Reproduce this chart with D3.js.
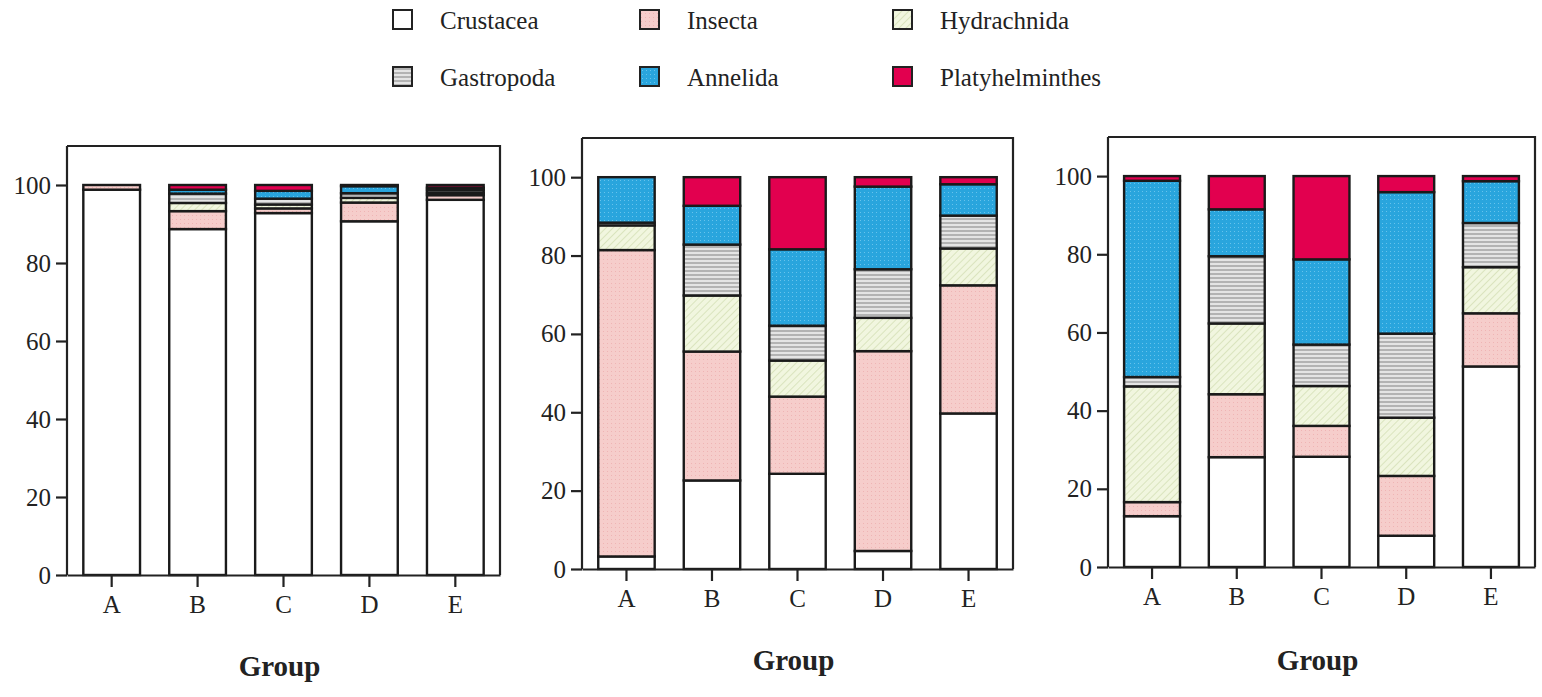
<!DOCTYPE html>
<html>
<head>
<meta charset="utf-8">
<script src="https://cdn.jsdelivr.net/npm/d3@7"></script>
<style>
  body { margin: 0; background: #fff; }
  svg text { font-family: "Liberation Serif", "DejaVu Serif", serif; fill: #222; }
  .axis path, .axis line { stroke: #222; stroke-width: 2.2; }
  .axis text { font-size: 25px; }
</style>
</head>
<body>
<svg id="chart" width="1542" height="697"></svg>
<script>
var groups = ["A", "B", "C", "D", "E"];
var taxa = ["Crustacea", "Insecta", "Hydrachnida", "Gastropoda", "Annelida", "Platyhelminthes"];
var yTicks = [0, 20, 40, 60, 80, 100];

// one row per group, columns in taxa order (percent)
var panelLeft = [
  [98.8, 1.2, 0, 0, 0, 0],
  [88.7, 4.6, 2.1, 2.4, 1.0, 1.2],
  [92.8, 1.2, 1.0, 1.5, 2.0, 1.5],
  [90.7, 4.8, 1.2, 1.2, 1.8, 0.3],
  [96.2, 1.2, 0.6, 0.7, 0.6, 0.7]
];
var panelMiddle = [
  [3.2, 78.2, 6.3, 0.7, 11.6, 0],
  [22.6, 32.9, 14.3, 13.0, 9.9, 7.3],
  [24.3, 19.7, 9.2, 8.9, 19.5, 18.4],
  [4.6, 51.0, 8.5, 12.4, 21.1, 2.4],
  [39.7, 32.7, 9.4, 8.4, 8.0, 1.8]
];
var panelRight = [
  [13.0, 3.6, 29.6, 2.4, 50.2, 1.2],
  [28.1, 16.1, 18.1, 17.2, 12.0, 8.5],
  [28.2, 7.9, 10.2, 10.6, 21.8, 21.3],
  [8.0, 15.3, 14.9, 21.5, 36.2, 4.1],
  [51.3, 13.6, 11.8, 11.3, 10.7, 1.3]
];

var svg = d3.select("#chart");
var defs = svg.append("defs");

// fills: plain, stippled, hatched, striped
var pInsecta = defs.append("pattern").attr("id", "p-insecta")
    .attr("patternUnits", "userSpaceOnUse").attr("width", 4).attr("height", 4);
pInsecta.append("rect").attr("width", 4).attr("height", 4).attr("fill", "#f6cdcb");
pInsecta.append("rect").attr("x", 1).attr("y", 1).attr("width", 1).attr("height", 1).attr("fill", "#efb4b4");

var pHydra = defs.append("pattern").attr("id", "p-hydra")
    .attr("patternUnits", "userSpaceOnUse").attr("width", 5).attr("height", 5)
    .attr("patternTransform", "rotate(45)");
pHydra.append("rect").attr("width", 5).attr("height", 5).attr("fill", "#f1f6df");
pHydra.append("line").attr("x1", 0).attr("y1", 0).attr("x2", 0).attr("y2", 5)
    .attr("stroke", "#d3dfb3").attr("stroke-width", 1.5);

var pGastro = defs.append("pattern").attr("id", "p-gastro")
    .attr("patternUnits", "userSpaceOnUse").attr("width", 6).attr("height", 4);
pGastro.append("rect").attr("width", 6).attr("height", 4).attr("fill", "#e4e4e4");
pGastro.append("rect").attr("width", 6).attr("height", 2).attr("fill", "#b3b3b3");

var pAnnel = defs.append("pattern").attr("id", "p-annel")
    .attr("patternUnits", "userSpaceOnUse").attr("width", 4).attr("height", 4);
pAnnel.append("rect").attr("width", 4).attr("height", 4).attr("fill", "#29a5dd");
pAnnel.append("rect").attr("x", 2).attr("y", 2).attr("width", 1).attr("height", 1).attr("fill", "#67c3ec");

var fills = {
  Crustacea: "#ffffff",
  Insecta: "url(#p-insecta)",
  Hydrachnida: "url(#p-hydra)",
  Gastropoda: "url(#p-gastro)",
  Annelida: "url(#p-annel)",
  Platyhelminthes: "#e2004f"
};

// legend
var legendCols = [393, 640, 893],
    legendRows = [20, 77];
var legend = svg.append("g").attr("class", "legend");
taxa.forEach(function (t, i) {
  var x = legendCols[i % 3], y = legendRows[Math.floor(i / 3)];
  legend.append("rect")
      .attr("x", x).attr("y", y - 10)
      .attr("width", 19).attr("height", 19)
      .attr("fill", fills[t])
      .attr("stroke", "#222").attr("stroke-width", 2);
  legend.append("text")
      .attr("x", x + 47).attr("y", y)
      .attr("dy", "0.35em")
      .style("font-size", "25px")
      .text(t);
});

var panels = [
  { data: panelLeft,   left: 67,   top: 146, width: 433, height: 429, labelY: 676 },
  { data: panelMiddle, left: 582,  top: 138, width: 431, height: 431, labelY: 670 },
  { data: panelRight,  left: 1108, top: 137, width: 427, height: 430, labelY: 670 }
];

var stack = d3.stack().keys(taxa);

panels.forEach(function (p) {
  var rows = p.data.map(function (vals, i) {
    var o = { group: groups[i] };
    taxa.forEach(function (t, j) { o[t] = vals[j]; });
    return o;
  });

  var x = d3.scaleBand().domain(groups).range([0, p.width])
      .paddingInner(0.34).paddingOuter(0.19);
  var y = d3.scaleLinear().domain([0, 110]).range([p.height, 0]);

  var g = svg.append("g").attr("transform", "translate(" + p.left + "," + p.top + ")");

  // frame top + right
  g.append("path")
      .attr("d", "M0,0H" + p.width + "V" + p.height)
      .attr("fill", "none").attr("stroke", "#222").attr("stroke-width", 2.2);

  var layers = g.selectAll(".layer")
      .data(stack(rows))
      .enter().append("g")
      .attr("class", "layer")
      .attr("fill", function (d) { return fills[d.key]; });

  layers.selectAll("rect")
      .data(function (d) { return d; })
      .enter().append("rect")
      .attr("x", function (d) { return x(d.data.group); })
      .attr("y", function (d) { return y(d[1]); })
      .attr("width", x.bandwidth())
      .attr("height", function (d) { return y(d[0]) - y(d[1]); })
      .attr("stroke", "#1a1a1a")
      .attr("stroke-width", 2.4);

  g.append("g")
      .attr("class", "axis")
      .call(d3.axisLeft(y).tickValues(yTicks).tickSize(11).tickPadding(5).tickSizeOuter(0))
      .call(function (a) { a.select(".domain").attr("d", "M0," + p.height + "V0"); });

  g.append("g")
      .attr("class", "axis")
      .attr("transform", "translate(0," + p.height + ")")
      .call(d3.axisBottom(x).tickSize(12).tickPadding(8).tickSizeOuter(0));

  g.append("text")
      .attr("x", p.width / 2 - 4)
      .attr("y", p.labelY - p.top)
      .attr("text-anchor", "middle")
      .style("font-size", "29px")
      .style("font-weight", "bold")
      .text("Group");
});
</script>
</body>
</html>
